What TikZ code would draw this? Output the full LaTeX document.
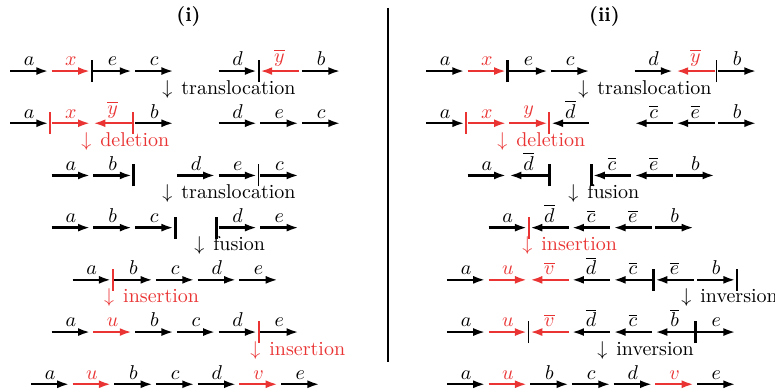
\documentclass[tikz,border=0pt]{standalone}
\usepackage{amsmath,amssymb}
\usepackage{xcolor}
\usetikzlibrary{arrows.meta}
\definecolor{genred}{RGB}{234,52,52}

\begin{document}
\begin{tikzpicture}[x=20.85pt,y=26.1pt,>={Latex[length=6pt,width=4pt]},
    gene/.style={line width=1.15pt},
    fw/.style={->}, bw/.style={<-},
    bk/.style={black}, rd/.style={genred},
    gname/.style={above,inner sep=2pt},
    cutbar/.style={line width=1pt},
    endbar/.style={line width=1.5pt},
    thinbar/.style={line width=0.65pt},
    opnote/.style={anchor=base west,inner sep=0pt}]
    \useasboundingbox (-0.24,-6.134) rectangle (18.345,1.361);
    % separator
    \draw[line width=1.1pt] (9.065,1.21) -- (9.065,-5.58);
    % left panel (i)
    \begin{scope}[xshift=0pt]
      \node[anchor=base] (ti) at (4.28,0.94) {\textbf{(i)}};
      \foreach \p/\t/\c/\s in {0/a/bk/fw,1/x/rd/fw,2/e/bk/fw,3/c/bk/fw,5/d/bk/fw,6/\overline{y}/rd/bw,7/b/bk/fw}
        \draw[gene,\c,\s] (\p,0) -- ++(0.92,0) node[gname,midway] {$\t$};
      \draw[cutbar] (1.96,-0.21) -- ++(0,0.42);
      \draw[cutbar] (5.96,-0.21) -- ++(0,0.42);
      \node[opnote] (i1) at (3.645,-0.44) {$\downarrow$\hspace{4.5pt}translocation};
      \foreach \p/\t/\c/\s in {0/a/bk/fw,1/x/rd/fw,2/\overline{y}/rd/bw,3/b/bk/fw,5/d/bk/fw,6/e/bk/fw,7/c/bk/fw}
        \draw[gene,\c,\s] (\p,-1) -- ++(0.92,0) node[gname,midway] {$\t$};
      \draw[cutbar,genred] (0.96,-1.21) -- ++(0,0.42);
      \draw[cutbar,genred] (2.96,-1.21) -- ++(0,0.42);
      \node[opnote,text=genred] (i2) at (1.70,-1.44) {$\downarrow$\hspace{4.5pt}deletion};
      \foreach \p/\t/\c/\s in {1/a/bk/fw,2/b/bk/fw,4/d/bk/fw,5/e/bk/fw,6/c/bk/fw}
        \draw[gene,\c,\s] (\p,-2) -- ++(0.92,0) node[gname,midway] {$\t$};
      \draw[endbar] (2.96,-2.21) -- ++(0,0.42);
      \draw[thinbar] (5.96,-2.21) -- ++(0,0.42);
      \node[opnote] (i3) at (3.645,-2.44) {$\downarrow$\hspace{4.5pt}translocation};
      \foreach \p/\t/\c/\s in {1/a/bk/fw,2/b/bk/fw,3/c/bk/fw,5/d/bk/fw,6/e/bk/fw}
        \draw[gene,\c,\s] (\p,-3) -- ++(0.92,0) node[gname,midway] {$\t$};
      \draw[endbar] (3.96,-3.21) -- ++(0,0.42);
      \draw[endbar] (4.96,-3.21) -- ++(0,0.42);
      \node[opnote] (i4) at (4.41,-3.44) {$\downarrow$\hspace{4.5pt}fusion};
      \foreach \p/\t/\c/\s in {1.5/a/bk/fw,2.5/b/bk/fw,3.5/c/bk/fw,4.5/d/bk/fw,5.5/e/bk/fw}
        \draw[gene,\c,\s] (\p,-4) -- ++(0.92,0) node[gname,midway] {$\t$};
      \draw[cutbar,genred] (2.46,-4.21) -- ++(0,0.42);
      \node[opnote,text=genred] (i5) at (2.25,-4.44) {$\downarrow$\hspace{4.5pt}insertion};
      \foreach \p/\t/\c/\s in {1/a/bk/fw,2/u/rd/fw,3/b/bk/fw,4/c/bk/fw,5/d/bk/fw,6/e/bk/fw}
        \draw[gene,\c,\s] (\p,-5) -- ++(0.92,0) node[gname,midway] {$\t$};
      \draw[cutbar,genred] (5.96,-5.21) -- ++(0,0.42);
      \node[opnote,text=genred] (i6) at (5.755,-5.44) {$\downarrow$\hspace{4.5pt}insertion};
      \foreach \p/\t/\c/\s in {0.5/a/bk/fw,1.5/u/rd/fw,2.5/b/bk/fw,3.5/c/bk/fw,4.5/d/bk/fw,5.5/v/rd/fw,6.5/e/bk/fw}
        \draw[gene,\c,\s] (\p,-6) -- ++(0.92,0) node[gname,midway] {$\t$};
    \end{scope}
    % right panel (ii)
    \begin{scope}[xshift=208pt]
      \node[anchor=base] (tii) at (4.28,0.94) {\textbf{(ii)}};
      \foreach \p/\t/\c/\s in {0/a/bk/fw,1/x/rd/fw,2/e/bk/fw,3/c/bk/fw,5/d/bk/fw,6/\overline{y}/rd/bw,7/b/bk/fw}
        \draw[gene,\c,\s] (\p,0) -- ++(0.92,0) node[gname,midway] {$\t$};
      \draw[endbar] (1.96,-0.21) -- ++(0,0.42);
      \draw[thinbar] (6.96,-0.21) -- ++(0,0.42);
      \node[opnote] (ii1) at (3.645,-0.44) {$\downarrow$\hspace{4.5pt}translocation};
      \foreach \p/\t/\c/\s in {0/a/bk/fw,1/x/rd/fw,2/y/rd/fw,3/\overline{d}/bk/bw,5/\overline{c}/bk/bw,6/\overline{e}/bk/bw,7/b/bk/fw}
        \draw[gene,\c,\s] (\p,-1) -- ++(0.92,0) node[gname,midway] {$\t$};
      \draw[cutbar,genred] (0.96,-1.21) -- ++(0,0.42);
      \draw[cutbar,genred] (2.96,-1.21) -- ++(0,0.42);
      \node[opnote,text=genred] (ii2) at (1.70,-1.44) {$\downarrow$\hspace{4.5pt}deletion};
      \foreach \p/\t/\c/\s in {1/a/bk/fw,2/\overline{d}/bk/bw,4/\overline{c}/bk/bw,5/\overline{e}/bk/bw,6/b/bk/fw}
        \draw[gene,\c,\s] (\p,-2) -- ++(0.92,0) node[gname,midway] {$\t$};
      \draw[endbar] (2.96,-2.21) -- ++(0,0.42);
      \draw[endbar] (3.96,-2.21) -- ++(0,0.42);
      \node[opnote] (ii3) at (3.405,-2.44) {$\downarrow$\hspace{4.5pt}fusion};
      \foreach \p/\t/\c/\s in {1.5/a/bk/fw,2.5/\overline{d}/bk/bw,3.5/\overline{c}/bk/bw,4.5/\overline{e}/bk/bw,5.5/b/bk/fw}
        \draw[gene,\c,\s] (\p,-3) -- ++(0.92,0) node[gname,midway] {$\t$};
      \draw[cutbar,genred] (2.46,-3.21) -- ++(0,0.42);
      \node[opnote,text=genred] (ii4) at (2.30,-3.44) {$\downarrow$\hspace{4.5pt}insertion};
      \foreach \p/\t/\c/\s in {0.5/a/bk/fw,1.5/u/rd/fw,2.5/\overline{v}/rd/bw,3.5/\overline{d}/bk/bw,4.5/\overline{c}/bk/bw,5.5/\overline{e}/bk/bw,6.5/b/bk/fw}
        \draw[gene,\c,\s] (\p,-4) -- ++(0.92,0) node[gname,midway] {$\t$};
      \draw[endbar] (5.46,-4.21) -- ++(0,0.42);
      \draw[cutbar] (7.46,-4.21) -- ++(0,0.42);
      \node[opnote] (ii5) at (6.115,-4.44) {$\downarrow$\hspace{4.5pt}inversion};
      \foreach \p/\t/\c/\s in {0.5/a/bk/fw,1.5/u/rd/fw,2.5/\overline{v}/rd/bw,3.5/\overline{d}/bk/bw,4.5/\overline{c}/bk/bw,5.5/\overline{b}/bk/bw,6.5/e/bk/fw}
        \draw[gene,\c,\s] (\p,-5) -- ++(0.92,0) node[gname,midway] {$\t$};
      \draw[thinbar] (2.46,-5.21) -- ++(0,0.42);
      \draw[endbar] (6.46,-5.21) -- ++(0,0.42);
      \node[opnote] (ii6) at (4.10,-5.44) {$\downarrow$\hspace{4.5pt}inversion};
      \foreach \p/\t/\c/\s in {0.5/a/bk/fw,1.5/u/rd/fw,2.5/b/bk/fw,3.5/c/bk/fw,4.5/d/bk/fw,5.5/v/rd/fw,6.5/e/bk/fw}
        \draw[gene,\c,\s] (\p,-6) -- ++(0.92,0) node[gname,midway] {$\t$};
    \end{scope}
  \end{tikzpicture}
\end{document}
